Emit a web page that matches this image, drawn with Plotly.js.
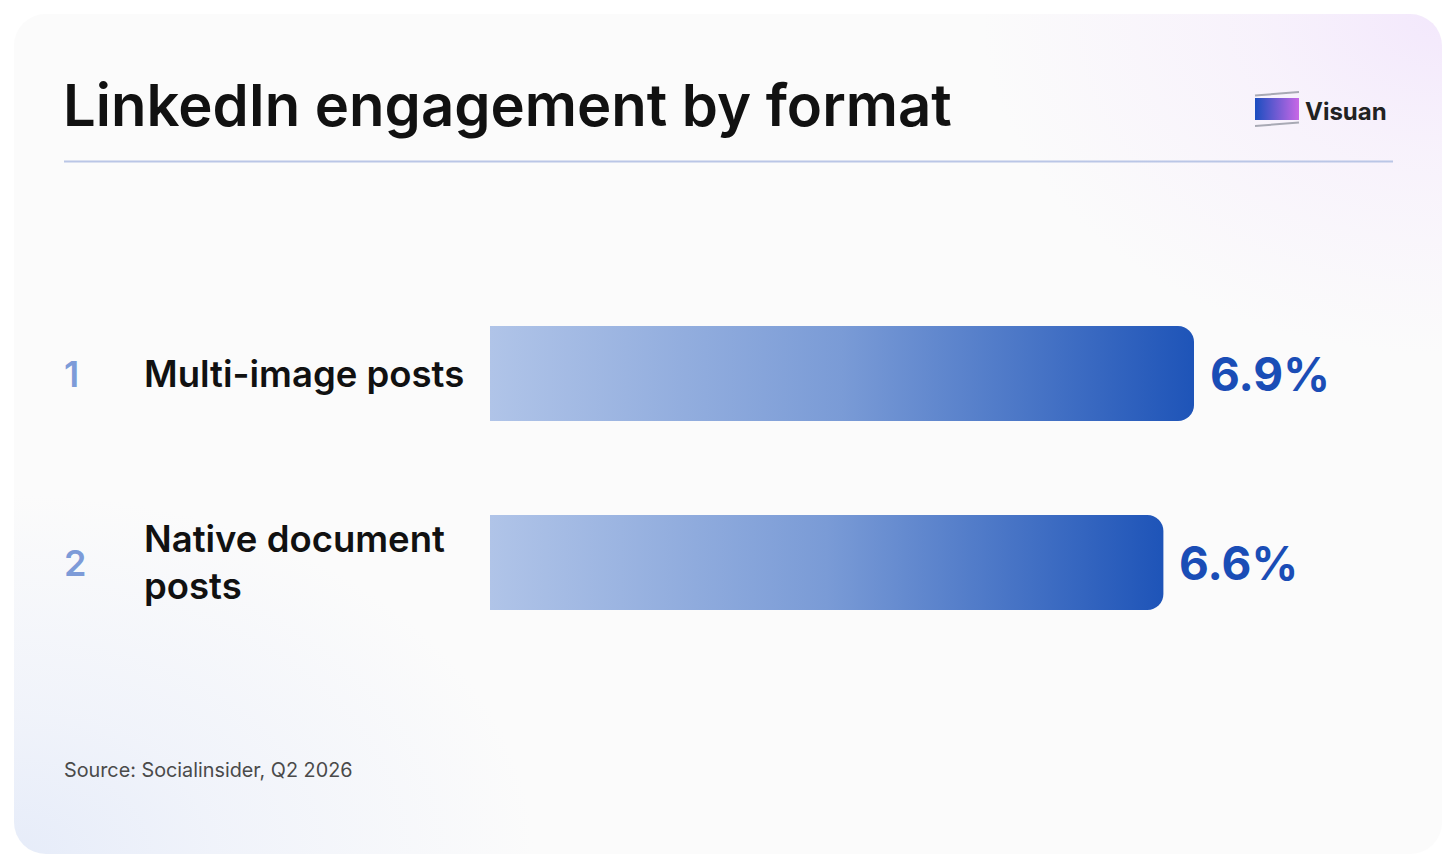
<!DOCTYPE html>
<html>
<head>
<meta charset="utf-8">
<script src="https://cdn.plot.ly/plotly-3.0.1.min.js"></script>
<style>
  html, body { margin: 0; padding: 0; background: #ffffff; width: 1456px; height: 868px; overflow: hidden; }
  #card {
    position: absolute; left: 14px; top: 14px; width: 1428px; height: 840px; border-radius: 32px;
    background:
      radial-gradient(ellipse 460px 340px at 100% 0%, rgba(243,232,252,1) 0%, rgba(246,238,252,0.7) 40%, rgba(251,251,251,0) 100%),
      radial-gradient(ellipse 520px 360px at 0% 100%, rgba(230,236,249,1) 0%, rgba(236,240,250,0.7) 40%, rgba(251,251,251,0) 100%),
      #fbfbfb;
  }
  #chart { position: absolute; left: 0; top: 0; width: 1456px; height: 868px; }
</style>
</head>
<body>
<div id="card"></div>
<div id="chart"></div>
<script>
// ---- data ----
const ranks = ["1", "2"];
const categories = ["Multi-image posts", "Native document<br>posts"];
const values = [6.9, 6.6];
const titleText = "LinkedIn engagement by format";
const sourceText = "Source: Socialinsider, Q2 2026";
const brandText = "Visuan";

// ---- layout geometry ----
const W = 1456, H = 868;
const M = { l: 490, r: 62, t: 279, b: 211 };
const PW = W - M.l - M.r, PH = H - M.t - M.b;
const px = x => (x - M.l) / PW;
const py = y => (H - M.b - y) / PH;
const FONT = "Inter, 'DejaVu Sans', sans-serif";

const logoSvg = `<svg xmlns="http://www.w3.org/2000/svg" width="46" height="38" viewBox="0 0 46 38">
<defs><linearGradient id="g" x1="0" y1="0" x2="1" y2="0"><stop offset="0" stop-color="#1b4ec0"/><stop offset="1" stop-color="#c868e6"/></linearGradient></defs>
<line x1="1" y1="5.5" x2="45" y2="2" stroke="#a8a9b4" stroke-width="2"/>
<rect x="1" y="8" width="44" height="22" fill="url(#g)"/>
<line x1="1" y1="36" x2="45" y2="32.5" stroke="#a8a9b4" stroke-width="2"/>
</svg>`;

const trace = {
  type: "bar",
  orientation: "h",
  x: values,
  y: categories,
  marker: { color: "#6f93d2", cornerradius: 16, line: { width: 0 } },
  hoverinfo: "skip"
};

const annotations = [];
categories.forEach((c, i) => {
  annotations.push({
    xref: "paper", yref: "y", x: px(62), y: c, xanchor: "left", yanchor: "middle",
    text: ranks[i], showarrow: false,
    font: { family: FONT, size: 36, color: "#7d9bd8", weight: 600 }
  });
  annotations.push({
    xref: "paper", yref: "y", x: px(142), y: c, xanchor: "left", yanchor: "middle", align: "left",
    text: c, showarrow: false,
    font: { family: FONT, size: 36.5, color: "#111111", weight: 600 }
  });
  annotations.push({
    xref: "x", yref: "y", x: values[i], y: c, xanchor: "left", yanchor: "middle", xshift: 14,
    text: values[i].toFixed(1) + "%", showarrow: false,
    font: { family: FONT, size: 46, color: "#1a4db6", weight: 700 }
  });
});
annotations.push({
  xref: "paper", yref: "paper", x: px(62), y: py(770), xanchor: "left", yanchor: "middle",
  text: sourceText, showarrow: false,
  font: { family: FONT, size: 19.8, color: "#4a4a4a", weight: 400 }
});
annotations.push({
  xref: "paper", yref: "paper", x: px(1303), y: py(111), xanchor: "left", yanchor: "middle",
  text: brandText, showarrow: false,
  font: { family: FONT, size: 24, color: "#222222", weight: 700 }
});

const layout = {
  width: W, height: H,
  margin: M,
  paper_bgcolor: "rgba(0,0,0,0)",
  plot_bgcolor: "rgba(0,0,0,0)",
  showlegend: false,
  bargap: 0.497,
  title: {
    text: titleText,
    xref: "container", yref: "container",
    x: 63 / W, xanchor: "left",
    y: 1 - 106 / H, yanchor: "middle",
    font: { family: FONT, size: 58, color: "#111111", weight: 600 }
  },
  xaxis: {
    range: [0, Math.max(...values) * PW / (1194 - M.l)],
    visible: false, fixedrange: true
  },
  yaxis: {
    autorange: "reversed",
    visible: false, fixedrange: true
  },
  shapes: [{
    type: "line", xref: "paper", yref: "paper",
    x0: px(64), x1: px(1393), y0: py(161.5), y1: py(161.5),
    line: { color: "#bac6e6", width: 2 }
  }],
  images: [{
    source: "data:image/svg+xml;charset=utf-8," + encodeURIComponent(logoSvg),
    xref: "paper", yref: "paper",
    x: px(1254), y: py(90), sizex: 46 / PW, sizey: 38 / PH,
    xanchor: "left", yanchor: "top", sizing: "stretch", layer: "above"
  }],
  annotations: annotations
};

Plotly.newPlot("chart", [trace], layout, { displayModeBar: false, staticPlot: true }).then(gd => {
  const svg = gd.querySelector("svg.main-svg");
  const ns = "http://www.w3.org/2000/svg";
  let defs = svg.querySelector("defs");
  if (!defs) { defs = document.createElementNS(ns, "defs"); svg.insertBefore(defs, svg.firstChild); }
  const lg = document.createElementNS(ns, "linearGradient");
  lg.setAttribute("id", "barGrad");
  lg.setAttribute("x1", "0"); lg.setAttribute("y1", "0");
  lg.setAttribute("x2", "1"); lg.setAttribute("y2", "0");
  [["0", "#b0c4e8"], ["0.5", "#7a9bd6"], ["1", "#1e54b8"]].forEach(([o, c]) => {
    const s = document.createElementNS(ns, "stop");
    s.setAttribute("offset", o); s.setAttribute("stop-color", c);
    lg.appendChild(s);
  });
  defs.appendChild(lg);
  gd.querySelectorAll(".barlayer .point path").forEach(p => {
    p.style.fill = "url(#barGrad)";
  });
});
</script>
</body>
</html>
